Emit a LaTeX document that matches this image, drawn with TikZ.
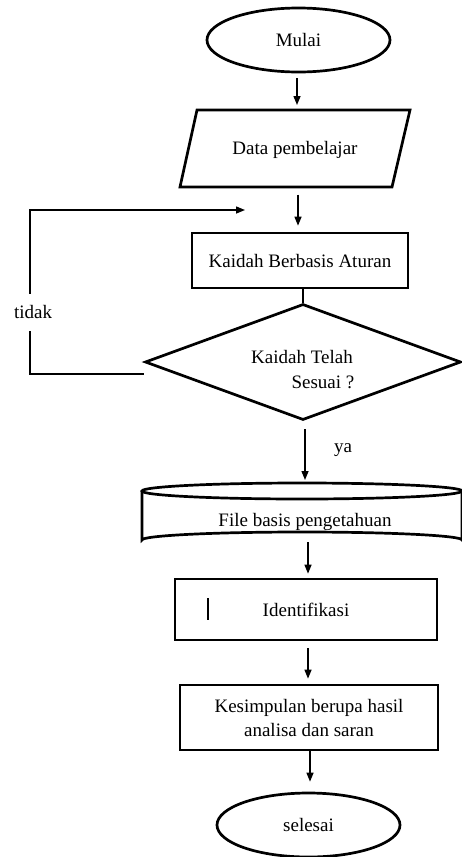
\documentclass[tikz,border=0pt]{standalone}
\usepackage{fontspec}
\setmainfont{Liberation Serif}
\usetikzlibrary{shapes.geometric,arrows.meta}
\begin{document}
\begin{tikzpicture}[x=1pt,y=-1pt,
  every node/.style={font=\fontsize{19}{24}\selectfont},
  shp/.style={draw,line width=2.7pt},
  conn/.style={line width=1.4pt},
  arr/.style={conn,-{Triangle[length=9pt,width=7pt]}},
  terminal/.style={shp,ellipse,minimum width=183,minimum height=64,inner sep=0},
  procbox/.style={shp,rectangle,inner sep=0,align=center},
  blank/.style={rectangle,inner sep=0}]
\useasboundingbox (0,0) rectangle (462,857);
% start
\node[terminal] (mulai) at (298.5,40) {Mulai};
% input parallelogram
\draw[shp,line join=miter] (197,110) -- (410,110) -- (392,187) -- (180,187) -- cycle;
\node[blank,minimum width=212,minimum height=77] (data) at (295,150) {Data pembelajar};
% rule box
\node[procbox,minimum width=216,minimum height=55] (kaidah) at (300,260.5) {Kaidah Berbasis Aturan};
% decision
\node[shp,diamond,minimum width=316,minimum height=116,inner sep=0] (dec) at (303,362) {};
\node[blank] (dt1) at (302,357) {Kaidah Telah};
\node[blank] (dt2) at (323,382) {Sesuai ?};
% knowledge file (drum)
\node[blank,minimum width=320,minimum height=65] (file) at (302,516) {};
\draw[shp] (302,491) ellipse [x radius=160,y radius=8];
\draw[shp] (142,491) -- (142,540) arc[start angle=180,end angle=360,x radius=160,y radius=8] -- (462,491);
\node[blank] (filet) at (305,522) {File basis pengetahuan};
% identification
\node[procbox,minimum width=262,minimum height=61] (ident) at (306,609.5) {Identifikasi};
\draw[conn] (208,598) -- (208,620);
% conclusion
\node[procbox,minimum width=258,minimum height=65] (kes) at (309,717.5) {Kesimpulan berupa hasil\\analisa dan saran};
% end
\node[terminal] (selesai) at (308.5,825) {selesai};
% connectors
\draw[arr] (297,78) -- (297,105);
\draw[arr] ([xshift=3pt,yshift=-6pt]data.south) -- ([xshift=-2pt,yshift=6pt]kaidah.north);
\draw[conn] ([xshift=3pt]kaidah.south) -- (dec.north);
\coordinate (loopend) at (245,210);
\draw[arr] ([yshift=-12pt]dec.west) -| (30,210) -- (loopend);
\node[blank,fill=white,minimum height=37,minimum width=38] (tidak) at (33,312) {tidak};
\draw[arr] ([xshift=2pt,yshift=-8pt]dec.south) -- (305,480);
\node[blank] (ya) at (343,450) {ya};
\draw[arr] (308,542) -- ([xshift=2pt,yshift=4pt]ident.north);
\draw[arr] ([xshift=2pt,yshift=-7pt]ident.south) -- ([xshift=-1pt,yshift=5pt]kes.north);
\draw[arr] ([xshift=1pt]kes.south) -- ([xshift=1.5pt,yshift=10pt]selesai.north);
\end{tikzpicture}
\end{document}
